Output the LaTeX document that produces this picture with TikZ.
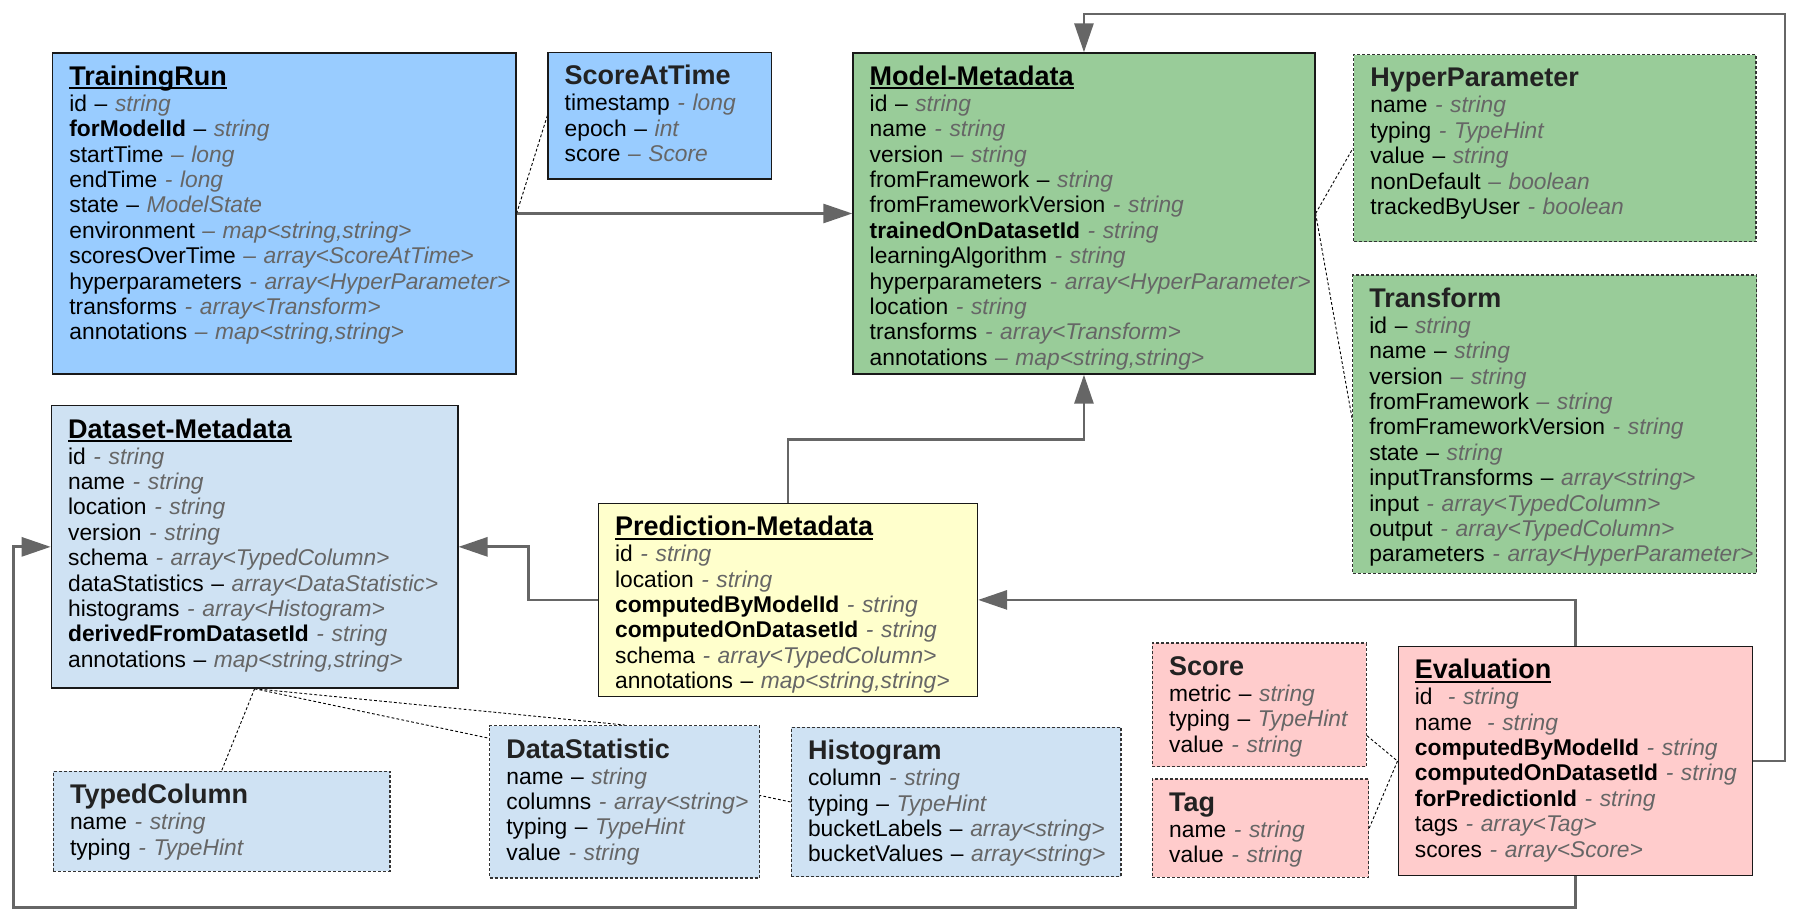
\documentclass[tikz,border=0pt]{standalone}
\usepackage{fontspec}
\setmainfont{Liberation Sans}
\usetikzlibrary{arrows.meta,calc,backgrounds}

\definecolor{runblue}{HTML}{99CCFF}
\definecolor{modelgreen}{HTML}{99CC99}
\definecolor{datablue}{HTML}{CFE2F3}
\definecolor{predyellow}{HTML}{FFFFCC}
\definecolor{evalpink}{HTML}{FFCCCC}
\definecolor{typegray}{HTML}{666666}
\definecolor{linkgray}{HTML}{666666}
\definecolor{auxtext}{HTML}{222222}

% field type, grey italic
\newcommand\ty[1]{{\color{typegray}\itshape #1}}
% underlined entity title
\newcommand\enttitle[1]{{\fontsize{13.5}{12.7}\selectfont\bfseries
  \setbox0\hbox{#1}\rlap{\rule[-1.9pt]{\wd0}{0.9pt}}\box0}}
% title of a value type
\newcommand\auxtitle[1]{{\fontsize{13.5}{12.7}\selectfont\bfseries\color{auxtext}#1}}

\tikzset{
  entity/.style={draw=black!90, line width=0.7pt, inner sep=0pt},
  auxbox/.style={draw=black!80, line width=0.6pt, dash pattern=on 1.5pt off 1pt, inner sep=0pt},
  fields/.style={anchor=base west, inner sep=0pt, text width=250pt, align=left,
    font=\fontsize{11.4}{12.7}\selectfont},
  link/.style={draw=linkgray, line width=1.4pt, -{Triangle[length=14.5pt,width=9.5pt]}},
  assoc/.style={draw=black, line width=0.45pt, dash pattern=on 1.4pt off 1.1pt},
}

% #1 name, #2 style, #3 left, #4 top, #5 width, #6 height, #7 fields
\newcommand\entitybox[7]{%
  \node[#2, minimum width=#5*0.5pt, minimum height=#6*0.5pt, anchor=north west] (#1) at (#3,#4) {};
  \node[fields] (#1-fields) at ([xshift=8.5pt,yshift=-16.5pt]#1.north west) {#7};
}

\begin{document}
\begin{tikzpicture}[x=0.5pt, y=-0.5pt]
\useasboundingbox (0,0) rectangle (1802,920);

\entitybox{tr}{entity, fill=runblue}{52}{52.3}{463.2}{321}{%
  \enttitle{TrainingRun}\\[0.3pt]
  id – \ty{string}\\
  \textbf{forModelId} – \ty{string}\\
  startTime \ty{– long}\\
  endTime \ty{- long}\\
  state – \ty{ModelState}\\
  environment \ty{– map<string,string>}\\
  scoresOverTime \ty{– array<ScoreAtTime>}\\
  hyperparameters \ty{- array<HyperParameter>}\\
  transforms \ty{- array<Transform>}\\
  annotations \ty{– map<string,string>}}

\entitybox{sat}{entity, fill=runblue}{547.3}{51.7}{223.2}{126.6}{%
  \auxtitle{ScoreAtTime}\\[0.3pt]
  timestamp \ty{- long}\\
  epoch – \ty{int}\\
  score \ty{– Score}}

\entitybox{mm}{entity, fill=modelgreen}{852.3}{52.3}{461.9}{321}{%
  \enttitle{Model-Metadata}\\[0.3pt]
  id – \ty{string}\\
  name \ty{- string}\\
  version \ty{– string}\\
  fromFramework – \ty{string}\\
  fromFrameworkVersion \ty{- string}\\
  \textbf{trainedOnDatasetId} \ty{- string}\\
  learningAlgorithm \ty{- string}\\
  hyperparameters \ty{- array<HyperParameter>}\\
  location \ty{- string}\\
  transforms \ty{- array<Transform>}\\
  annotations \ty{– map<string,string>}}

\entitybox{hp}{auxbox, fill=modelgreen}{1353}{54}{402.3}{187}{%
  \auxtitle{HyperParameter}\\[0.3pt]
  name \ty{- string}\\
  typing \ty{- TypeHint}\\
  value – \ty{string}\\
  nonDefault \ty{– boolean}\\
  trackedByUser \ty{- boolean}}

\entitybox{tf}{auxbox, fill=modelgreen}{1352}{274.3}{404}{298.4}{%
  \auxtitle{Transform}\\[0.3pt]
  id – \ty{string}\\
  name – \ty{string}\\
  version \ty{– string}\\
  fromFramework \ty{– string}\\
  fromFrameworkVersion \ty{- string}\\
  state – \ty{string}\\
  inputTransforms – \ty{array<string>}\\
  input \ty{- array<TypedColumn>}\\
  output \ty{- array<TypedColumn>}\\
  parameters \ty{- array<HyperParameter>}}

\entitybox{ds}{entity, fill=datablue}{50.7}{405}{406.4}{282.3}{%
  \enttitle{Dataset-Metadata}\\[0.3pt]
  id \ty{- string}\\
  name \ty{- string}\\
  location \ty{- string}\\
  version \ty{- string}\\
  schema \ty{- array<TypedColumn>}\\
  dataStatistics – \ty{array<DataStatistic>}\\
  histograms \ty{- array<Histogram>}\\
  \textbf{derivedFromDatasetId} \ty{- string}\\
  annotations – \ty{map<string,string>}}

\entitybox{pm}{entity, fill=predyellow}{597.7}{502.7}{379}{193}{%
  \enttitle{Prediction-Metadata}\\[0.3pt]
  id \ty{- string}\\
  location \ty{- string}\\
  \textbf{computedByModelId} \ty{- string}\\
  \textbf{computedOnDatasetId} \ty{- string}\\
  schema \ty{- array<TypedColumn>}\\
  annotations – \ty{map<string,string>}}

\entitybox{tc}{auxbox, fill=datablue}{52.6}{770.7}{336.8}{100}{%
  \auxtitle{TypedColumn}\\[0.3pt]
  name \ty{- string}\\
  typing \ty{- TypeHint}}

\entitybox{dst}{auxbox, fill=datablue}{489}{725}{270}{152.3}{%
  \auxtitle{DataStatistic}\\[0.3pt]
  name – \ty{string}\\
  columns \ty{- array<string>}\\
  typing – \ty{TypeHint}\\
  value \ty{- string}}

\entitybox{hg}{auxbox, fill=datablue}{790.6}{726.7}{329.7}{149.3}{%
  \auxtitle{Histogram}\\[0.3pt]
  column \ty{- string}\\
  typing – \ty{TypeHint}\\
  bucketLabels – \ty{array<string>}\\
  bucketValues – \ty{array<string>}}

\entitybox{sc}{auxbox, fill=evalpink}{1151.8}{642.3}{214}{123.7}{%
  \auxtitle{Score}\\[0.3pt]
  metric – \ty{string}\\
  typing – \ty{TypeHint}\\
  value \ty{- string}}

\entitybox{tg}{auxbox, fill=evalpink}{1151.8}{778.3}{216.2}{98.4}{%
  \auxtitle{Tag}\\[0.3pt]
  name \ty{- string}\\
  value \ty{- string}}

\entitybox{ev}{entity, fill=evalpink}{1397.5}{645.7}{354.5}{229.3}{%
  \enttitle{Evaluation}\\[0.3pt]
  id\ \ \ty{- string}\\
  name\ \ \ty{- string}\\
  \textbf{computedByModelId} \ty{- string}\\
  \textbf{computedOnDatasetId} \ty{- string}\\
  \textbf{forPredictionId} \ty{- string}\\
  tags \ty{- array<Tag>}\\
  scores \ty{- array<Score>}}

% corners of the long references around the diagram
\coordinate (railtop) at (1785,14);
\coordinate (railbottom) at (13.8,907.5);

\begin{scope}[on background layer]
  % references between entities
  \draw[link] (tr.east) -- (mm.west);
  \draw[link] (ev.east) -| (railtop) -| (mm.north);
  \draw[link] (pm.north) |- ($(mm.south)+(0,65)$) -- (mm.south);
  \draw[link] (pm.west) -| ($(ds.east)+(70,0)$) -- (ds.east);
  \draw[link] (ev.north) |- (pm.east);
  \draw[link] (ev.south) |- (railbottom) |- (ds.west);

  % nested value types
  \draw[assoc] (tr.east) -- (sat.west);
  \draw[assoc] (mm.east) -- (hp.west);
  \draw[assoc] (mm.east) -- ([yshift=3pt]tf.west);
  \draw[assoc] (ds.south) -- (tc.north);
  \draw[assoc] (ds.south) -- (dst.north);
  \draw[assoc] (ds.south) -- (hg.west);
  \draw[assoc] ([yshift=-15.5pt]sc.east) -- (ev.west);
  \draw[assoc] (tg.east) -- (ev.west);
\end{scope}
\end{tikzpicture}
\end{document}
